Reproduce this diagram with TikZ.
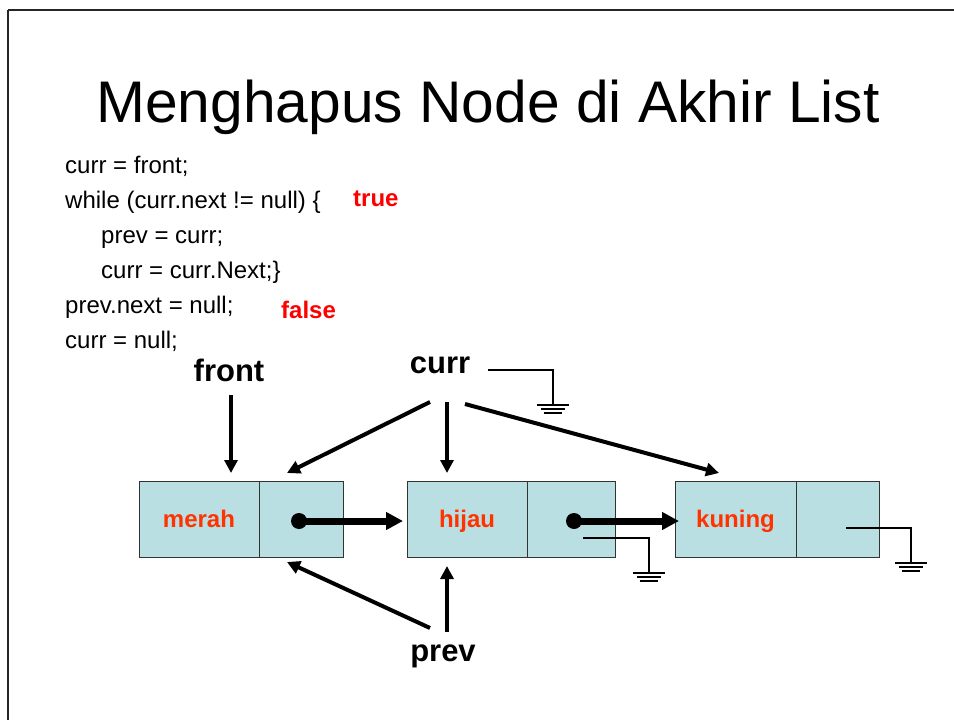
\documentclass[tikz,border=0pt]{standalone}
\usepackage{fontspec}
\setmainfont{Liberation Sans}
\usetikzlibrary{arrows.meta}
\definecolor{cellblue}{RGB}{185,223,227}
\definecolor{celltext}{RGB}{255,51,0}
\definecolor{flagred}{RGB}{255,0,0}
\tikzset{
  cell/.style={draw=black!80, line width=0.8pt, fill=cellblue, minimum height=76pt, inner sep=0pt,
    text height=18pt, text depth=2pt,
    font=\fontsize{24}{28}\selectfont\bfseries, text=celltext},
  code/.style={anchor=base west, inner sep=0pt, font=\fontsize{24}{28}\selectfont},
  flag/.style={anchor=base west, inner sep=0pt, font=\fontsize{24}{28}\selectfont\bfseries, text=flagred},
  varname/.style={anchor=base, inner sep=0pt, font=\fontsize{31}{36}\selectfont\bfseries},
  refarrow/.style={line width=4pt, -{Triangle[length=13pt,width=13pt]}},
  ptrarrow/.style={line width=7pt, -{Triangle[length=17pt,width=17pt]}},
  nullline/.style={line width=2pt},
  ptrdot/.style={circle, fill=black, minimum size=16pt, inner sep=0pt},
  pics/groundsym/.style={code={
    \draw[line width=2.4pt] (-16,0) -- (16,0);
    \draw[line width=2.4pt] (-12,4) -- (12,4);
    \draw[line width=2.4pt] (-9,8) -- (9,8);
  }}
}
\begin{document}
\begin{tikzpicture}[x=1pt,y=-1pt]
\useasboundingbox (0,0) rectangle (954,720);
\draw[line width=2pt, black!85] (8,10) -- (960,10);
\draw[line width=2pt, black!85] (8,10) -- (8,730);

\node[anchor=base, inner sep=0pt, font=\fontsize{58.7}{64}\selectfont] (title) at (488,122) {Menghapus Node di Akhir List};

\node[code] (c1) at (65,173) {curr = front;};
\node[code] (c2) at (65,208) {while (curr.next != null) \{};
\node[code] (c3) at (101,243) {prev = curr;};
\node[code] (c4) at (101,278) {curr = curr.Next;\}};
\node[code] (c5) at (65,313) {prev.next = null;};
\node[code] (c6) at (65,348) {curr = null;};
\node[flag] (t) at (353,206) {true};
\node[flag] (f) at (281,318) {false};

% list cells
\node[cell, minimum width=120pt] (mD) at (199,519) {merah};
\node[cell, minimum width=84pt] (mP) at (301,519) {};
\node[cell, minimum width=120pt] (hD) at (467,519) {hijau};
\node[cell, minimum width=88pt] (hP) at (571,519) {};
\node[cell, minimum width=121pt] (kD) at (735.5,519) {kuning};
\node[cell, minimum width=83pt] (kP) at (837.5,519) {};

% variable names
\node[varname] (front) at (229,381) {front};
\node[varname] (curr) at (440,373) {curr};
\node[varname] (prev) at (443,661) {prev};

% reference arrows
\coordinate (frontS) at (231,395);
\coordinate (frontE) at (231,473);
\draw[refarrow] (frontS) -- (frontE);
\coordinate (cA) at (430,402);
\coordinate (cB) at (447,402);
\coordinate (cC) at (465,404);
\coordinate (mPtop) at (287,473);
\coordinate (hDtop) at (447,473);
\coordinate (kDtop) at (719,473);
\draw[refarrow] (cA) -- (mPtop);
\draw[refarrow] (cB) -- (hDtop);
\draw[refarrow] (cC) -- (kDtop);
\coordinate (pA) at (447,632);
\coordinate (pB) at (430,628);
\coordinate (hDbot) at (447,566);
\coordinate (mPbot) at (287,562);
\draw[refarrow] (pA) -- (hDbot);
\draw[refarrow] (pB) -- (mPbot);

% pointers
\node[ptrdot] (d1) at (299,521) {};
\node[ptrdot] (d2) at (574,521) {};
\coordinate (hin) at (403,521);
\coordinate (kin) at (679,521);
\draw[ptrarrow] (d1.center) -- (hin);
\draw[ptrarrow] (d2.center) -- (kin);

% null grounds
\coordinate (g1s) at (488,370);
\coordinate (g1) at (553,405);
\draw[nullline] (g1s) -| (g1);
\pic at (g1) {groundsym};
\coordinate (g2s) at (583,538);
\coordinate (g2) at (649,573);
\draw[nullline] (g2s) -| (g2);
\pic at (g2) {groundsym};
\coordinate (g3s) at (846,528);
\coordinate (g3) at (911,563);
\draw[nullline] (g3s) -| (g3);
\pic at (g3) {groundsym};
\end{tikzpicture}
\end{document}
